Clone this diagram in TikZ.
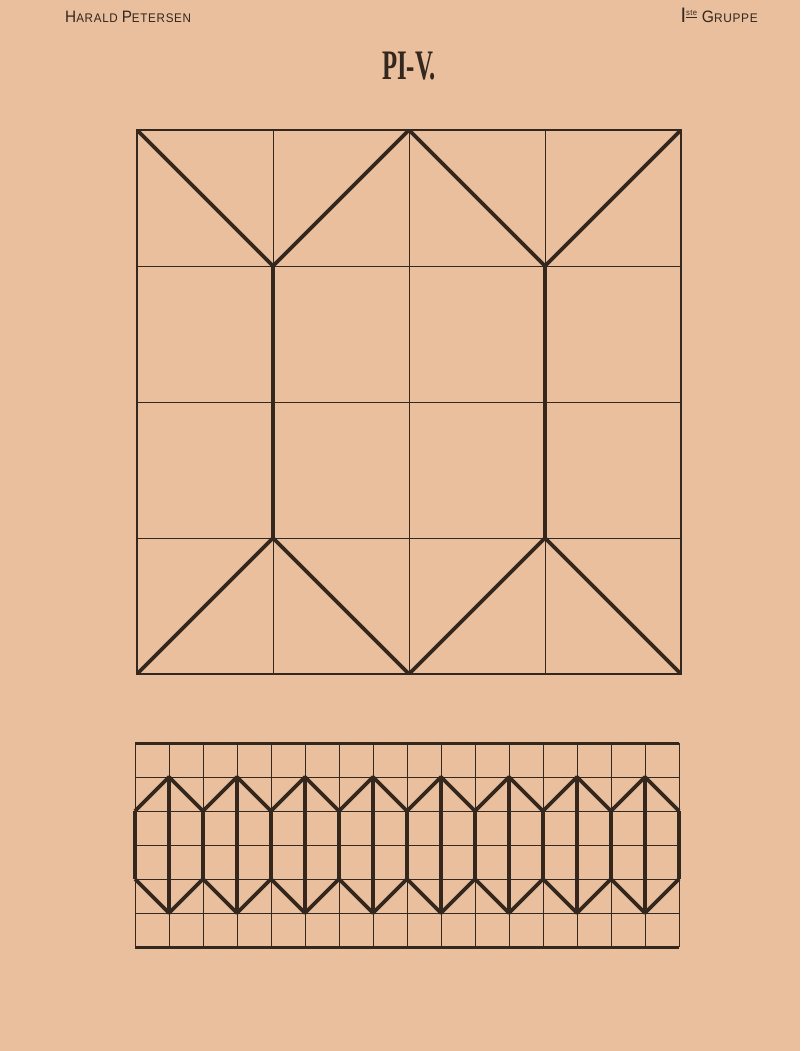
\documentclass[tikz,border=0pt]{standalone}
\usepackage{fontspec}
\setmainfont{Liberation Serif}
\newfontfamily\hdr{Liberation Sans}[LetterSpace=6]
\definecolor{paper}{HTML}{E9BF9D}
\definecolor{ink}{HTML}{33271E}
\newcommand{\capsz}{\fontsize{16.5}{16.5}\selectfont}
\newcommand{\smsz}{\fontsize{12.5}{12.5}\selectfont}
\begin{document}
\begin{tikzpicture}[x=1pt,y=-1pt,
  gridline/.style={draw=ink, line width=0.9pt},
  frameline/.style={draw=ink, line width=2pt},
  boldline/.style={draw=ink, line width=3.8pt, line join=round},
  bandedge/.style={draw=ink, line width=3pt},
  label/.style={inner sep=0pt, text=ink}]
\fill[paper] (0,0) rectangle (800,1051);
\useasboundingbox (0,0) rectangle (800,1051);
% headers
\node[label, anchor=base west] (author) at (65,23)
  {\scalebox{0.93}[1]{\hdr\capsz H\smsz ARALD \capsz P\smsz ETERSEN}};
\node[label, anchor=base east] (group) at (758,23)
  {\scalebox{0.95}[1]{\hdr\fontsize{21}{21}\selectfont I\raisebox{7pt}{\fontsize{8}{8}\selectfont\underline{ste}}\hspace{5pt}\capsz G\smsz RUPPE}};
\node[label, anchor=base] (title) at (409,80)
  {\scalebox{0.59}[1]{\fontsize{42}{42}\selectfont\bfseries PI-V.}};
% main square grid
\foreach \i in {1,...,3} {
  \draw[gridline] (137+136*\i,130) -- ++(0,544);
  \draw[gridline] (137,130+136*\i) -- ++(544,0);
}
% main bold figure
\begin{scope}
\clip (137,130) rectangle (681,674);
\draw[boldline, line join=miter] (137,130) -- (273,266) -- (409,130) -- (545,266) -- (681,130);
\draw[boldline, line join=miter] (137,674) -- (273,538) -- (409,674) -- (545,538) -- (681,674);
\draw[boldline] (273,266) -- (273,538);
\draw[boldline] (545,266) -- (545,538);
\end{scope}
\draw[frameline] (137,130) rectangle (681,674);
% band grid
\foreach \j in {0,...,16} {
  \draw[gridline] (135+34*\j,743) -- ++(0,204);
}
\foreach \k in {1,...,5} {
  \draw[gridline] (135,743+34*\k) -- ++(544,0);
}
\draw[bandedge] (135,743) -- (679,743);
\draw[bandedge] (135,947) -- (679,947);
% band bold pattern
\draw[boldline] (135,811) \foreach \m in {0,...,7} { -- (169+68*\m,777) -- (203+68*\m,811) };
\draw[boldline] (135,879) \foreach \m in {0,...,7} { -- (169+68*\m,913) -- (203+68*\m,879) };
\foreach \m in {0,...,8} {
  \draw[boldline] (135+68*\m,811) -- ++(0,68);
}
\foreach \m in {0,...,7} {
  \draw[boldline] (169+68*\m,777) -- ++(0,136);
}
\end{tikzpicture}
\end{document}
